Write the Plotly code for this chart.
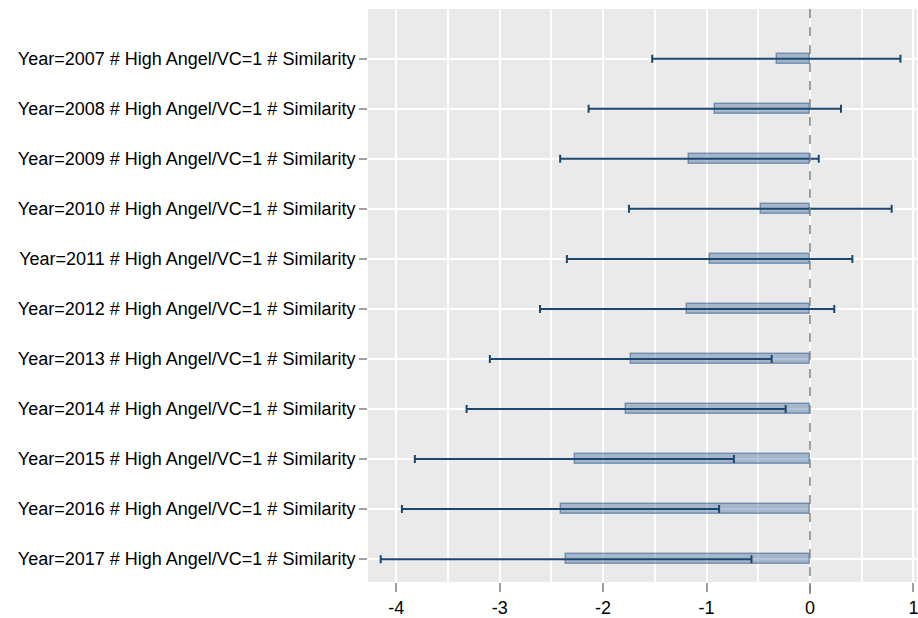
import plotly.graph_objects as go

years = [2007, 2008, 2009, 2010, 2011, 2012, 2013, 2014, 2015, 2016, 2017]
labels = [f"Year={y} # High Angel/VC=1 # Similarity" for y in years]
coef = [-0.32, -0.92, -1.165, -0.475, -0.97, -1.185, -1.73, -1.775, -2.275, -2.41, -2.36]
ci_low = [-1.525, -2.14, -2.415, -1.75, -2.35, -2.61, -3.095, -3.32, -3.82, -3.945, -4.15]
ci_high = [0.875, 0.30, 0.085, 0.79, 0.41, 0.235, -0.37, -0.235, -0.735, -0.878, -0.565]
x_ticks = [-4, -3, -2, -1, 0, 1]
x_tick_text = ["-4", "-3", "-2", "-1", "0", "1"]

pos = list(range(len(years)))
err_plus = [h - c for h, c in zip(ci_high, coef)]
err_minus = [c - l for c, l in zip(coef, ci_low)]

navy = "#1a476f"
fig = go.Figure()
fig.add_trace(go.Bar(
    y=pos, x=coef, base=0, orientation="h", width=0.2,
    marker=dict(color="rgba(40,85,143,0.35)", line=dict(color="rgba(42,84,136,0.5)", width=1.5)),
    error_x=dict(type="data", symmetric=False, array=err_plus, arrayminus=err_minus,
                 color=navy, thickness=2, width=4),
    showlegend=False, hoverinfo="skip",
))

fig.add_shape(type="line", xref="x", yref="paper", x0=0, x1=0, y0=-0.021, y1=1.007,
              line=dict(color="#808080", width=1.5, dash="dash"), layer="above")

fig.update_layout(
    width=918, height=618,
    margin=dict(l=368, r=0, t=9, b=33),
    paper_bgcolor="white", plot_bgcolor="#eaeaea",
    font=dict(family="Liberation Sans, Arial, Helvetica, sans-serif", size=18, color="black"),
    bargap=0,
)
fig.update_xaxes(
    range=[-4.273, 1.035], tickvals=x_ticks, ticktext=x_tick_text,
    ticks="outside", ticklen=9, tickcolor="#a0a0a0", tickwidth=1.5,
    ticklabeloverflow="allow",
    showgrid=True, gridcolor="white", gridwidth=1.5,
    minor=dict(dtick=0.5, tick0=0, showgrid=True, gridcolor="white", gridwidth=1.5, ticks=""),
    zeroline=False, showline=False,
)
fig.update_yaxes(
    range=[10.457, -0.994], tickvals=pos, ticktext=labels,
    ticks="outside", ticklen=8, tickcolor="#a0a0a0", tickwidth=1.5,
    showgrid=True, gridcolor="white", gridwidth=1.5,
    zeroline=False, showline=False,
)

fig.write_html("out.html", config={"displayModeBar": False},
               post_script="document.body.style.margin='0';document.body.style.overflow='hidden';")
